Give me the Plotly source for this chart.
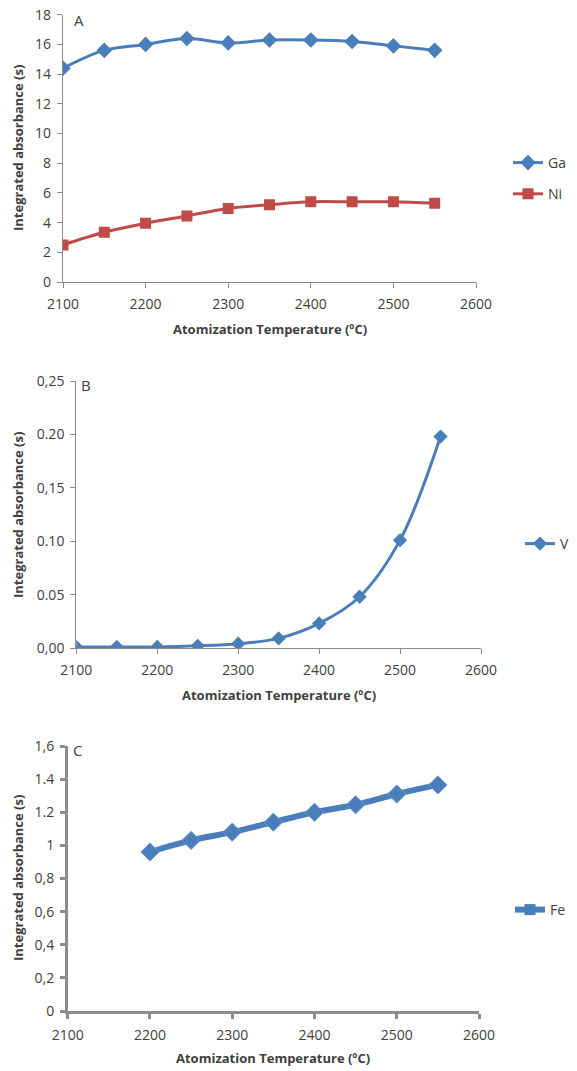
import plotly.graph_objects as go

# ---- data ----
temps_ab = [2100, 2150, 2200, 2250, 2300, 2350, 2400, 2450, 2500, 2550]
ga_vals = [14.4, 15.6, 16.0, 16.4, 16.1, 16.3, 16.3, 16.2, 15.9, 15.6]
ni_vals = [2.5, 3.35, 3.95, 4.45, 4.95, 5.2, 5.4, 5.4, 5.4, 5.3]
v_vals = [0.001, 0.001, 0.001, 0.002, 0.004, 0.009, 0.023, 0.048, 0.101, 0.198]
temps_c = [2200, 2250, 2300, 2350, 2400, 2450, 2500, 2550]
fe_vals = [0.96, 1.03, 1.08, 1.14, 1.20, 1.245, 1.31, 1.365]

x_ticks = [2100, 2200, 2300, 2400, 2500, 2600]
a_yticks = [0, 2, 4, 6, 8, 10, 12, 14, 16, 18]
b_yticks = [0, 0.05, 0.10, 0.15, 0.20, 0.25]
b_ylabels = ["0,00", "0.05", "0.10", "0,15", "0.20", "0,25"]
c_yticks = [0, 0.2, 0.4, 0.6, 0.8, 1.0, 1.2, 1.4, 1.6]
c_ylabels = ["0", "0,2", "0,4", "0,6", "0,8", "1", "1.2", "1.4", "1,6"]

BLUE = "#4A7EBB"
RED = "#BE4B48"
TXT = "#404040"
AX = "#8C8C8C"
W, H = 577, 1071
FONT = "Open Sans"


def px(x):
    return x / W


def py(y):
    return 1 - y / H


fig = go.Figure()

fig.add_trace(go.Scatter(x=temps_ab, y=ga_vals, name="Ga", mode="lines+markers",
                         line=dict(color=BLUE, width=3, shape="spline"),
                         marker=dict(symbol="diamond", size=12, color=BLUE),
                         legendgroup="ga",
                         xaxis="x", yaxis="y", legend="legend"))
fig.add_trace(go.Scatter(x=temps_ab, y=ni_vals, name="Ni", mode="lines+markers",
                         line=dict(color=RED, width=3, shape="spline"),
                         marker=dict(symbol="square", size=11, color=RED),
                         legendgroup="ni",
                         xaxis="x", yaxis="y", legend="legend"))
fig.add_trace(go.Scatter(x=temps_ab, y=v_vals, name="V", mode="lines+markers",
                         line=dict(color=BLUE, width=3, shape="spline"),
                         marker=dict(symbol="diamond", size=11, color=BLUE),
                         xaxis="x2", yaxis="y2", legend="legend2"))
fig.add_trace(go.Scatter(x=temps_c, y=fe_vals, name="Fe", mode="lines+markers",
                         line=dict(color=BLUE, width=6, shape="spline"),
                         marker=dict(symbol="diamond", size=14, color=BLUE,
                                     line=dict(color="#6A98CF", width=1)),
                         showlegend=False,
                         xaxis="x3", yaxis="y3"))
# legend entry for Fe (square key as in the reference)
fig.add_trace(go.Scatter(x=[None], y=[None], name="Fe", mode="lines+markers",
                         line=dict(color=BLUE, width=6),
                         marker=dict(symbol="square", size=11, color=BLUE),
                         xaxis="x3", yaxis="y3", legend="legend3"))

tickfont = dict(family=FONT, size=14, color=TXT)


def xaxis(domain, anchor, lw=1.2):
    return dict(domain=domain, anchor=anchor, range=[2100, 2600], tickvals=x_ticks,
                showgrid=False, zeroline=False, showline=True, linecolor=AX, linewidth=lw,
                ticks="outside", ticklen=5, tickcolor=AX, tickwidth=lw, tickfont=tickfont,
                ticklabelstandoff=4, automargin=False, fixedrange=True)


def yaxis(domain, anchor, rng, tv, tt=None, lw=1.2):
    d = dict(domain=domain, anchor=anchor, range=rng, tickvals=tv,
             showgrid=False, zeroline=False, showline=True, linecolor=AX, linewidth=lw,
             ticks="outside", ticklen=5, tickcolor=AX, tickwidth=lw, tickfont=tickfont,
             ticklabelstandoff=3, automargin=False, fixedrange=True)
    if tt is not None:
        d["ticktext"] = tt
    return d


legfont = dict(family=FONT, size=14, color=TXT)
fig.update_layout(
    width=W, height=H, margin=dict(l=0, r=0, t=0, b=0, autoexpand=False),
    paper_bgcolor="white", plot_bgcolor="white",
    font=dict(family=FONT, color=TXT),
    xaxis=xaxis([px(63), px(476)], "y"),
    yaxis=yaxis([py(282), py(14.7)], "x", [0, 18], a_yticks),
    xaxis2=xaxis([px(76.3), px(481)], "y2"),
    yaxis2=yaxis([py(648), py(381)], "x2", [0, 0.25], b_yticks, b_ylabels),
    xaxis3=xaxis([px(67.7), px(479)], "y3", lw=2.5),
    yaxis3=yaxis([py(1011), py(746)], "x3", [0, 1.6], c_yticks, c_ylabels, lw=2.5),
    legend=dict(x=px(508), y=py(147), xanchor="left", yanchor="top",
                font=legfont, tracegroupgap=10,
                itemwidth=30, bgcolor="rgba(0,0,0,0)"),
    legend2=dict(x=px(520), y=py(528), xanchor="left", yanchor="top",
                 font=legfont, itemwidth=30, bgcolor="rgba(0,0,0,0)"),
    legend3=dict(x=px(510), y=py(894), xanchor="left", yanchor="top",
                 font=legfont, itemwidth=30, bgcolor="rgba(0,0,0,0)"),
    showlegend=True,
)

ann = []
title_font = dict(family=FONT, size=13, color=TXT)
for (xc, yc) in [(270, 329), (279, 695), (273, 1058)]:
    ann.append(dict(text="<b>Atomization Temperature (ºC)</b>", x=px(xc), y=py(yc),
                    xref="paper", yref="paper", showarrow=False, font=title_font,
                    xanchor="center", yanchor="middle"))
for (xc, yc) in [(18, 148), (18, 515), (18, 878)]:
    ann.append(dict(text="<b>Integrated absorbance (s)</b>", x=px(xc), y=py(yc),
                    xref="paper", yref="paper", showarrow=False, font=title_font,
                    textangle=-90, xanchor="center", yanchor="middle"))
for (lab, xc, yc) in [("A", 79, 20), ("B", 86, 385), ("C", 77, 750)]:
    ann.append(dict(text=lab, x=px(xc), y=py(yc), xref="paper", yref="paper",
                    showarrow=False, font=dict(family=FONT, size=15, color=TXT),
                    xanchor="center", yanchor="middle"))
fig.update_layout(annotations=ann)

fig.write_html("out.html", config={"displayModeBar": False},
               post_script="document.body.style.margin='0';document.body.style.overflow='hidden';")
